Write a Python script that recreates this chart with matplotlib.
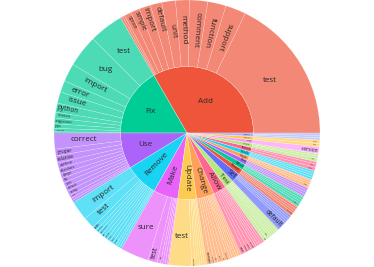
import numpy as np
import matplotlib
matplotlib.use("Agg")
import matplotlib.pyplot as plt
import matplotlib.colors as mcolors
from matplotlib.patches import Wedge
from matplotlib.textpath import TextPath
from matplotlib.font_manager import FontProperties

# --- data: commit verbs (inner ring) and the word that follows (outer ring) ---
verbs = ["Add", "Fix", "Use", "Remove", "Make", "Update", "Change", "Allow",
         "Test", "Set", "Revert", "Move", "Dont", "Create", "Handle", "Improve",
         "Ensure", "Bump", "Refactor", "Replace"]
verb_colors = ["#EF553B", "#00CC96", "#AB63FA", "#19D3F3", "#E763FA", "#FECB52",
               "#FFA15A", "#FF6692", "#B6E880", "#636EFA", "#EF553B", "#00CC96",
               "#AB63FA", "#FFA15A", "#19D3F3", "#FF6692", "#B6E880", "#FF97FF",
               "#FECB52", "#AEB4FB"]

add_words = ["test", "support", "function", "comment", "method", "unit", "default",
             "import", "simple", "option", "new", "more"]
add_counts = [128, 18, 16, 16, 12, 12, 10, 10, 8, 6, 2, 2]
fix_words = ["test", "bug", "import", "error", "issue", "python", "broken",
             "migration", "typo", "problem", "bugs"]
fix_counts = [30, 28, 16, 10, 10, 8, 5, 5, 4, 3, 1]
use_words = ["correct", "proper", "relative", "python", "absolute", "django", "file",
             "json", "default", "string", "new", "os", "same"]
use_counts = [14, 6, 6, 5, 5, 4, 4, 4, 4, 4, 3, 2, 2]
remove_words = ["import", "test", "code", "unused", "deprecated", "old", "debug",
                "dead", "print", "extra", "duplicate", "unnecessary", "support"]
remove_counts = [17, 10, 4, 3, 3, 3, 3, 3, 3, 3, 2, 2, 2]
make_words = ["sure", "test", "it", "code", "build", "tests", "setup"]
make_counts = [25, 8, 3, 2, 2, 2, 1]
update_words = ["test", "version", "docs", "readme", "requirements", "changelog", "copyright"]
update_counts = [20, 3, 2, 2, 2, 2, 2]
change_words = ["example", "default", "test", "name", "log", "version", "error",
                "order", "path", "type", "url", "way"]
change_counts = [4, 3, 3, 3, 3, 3, 2, 2, 2, 2, 2, 2]
allow_words = ["user", "custom", "empty", "passing", "multiple", "setting", "none", "use", "any"]
allow_counts = [4, 3, 3, 3, 2, 2, 2, 2, 2]
test_words = ["for", "that", "case", "new", "data", "all", "fix"]
test_counts = [3, 3, 2, 2, 2, 2, 2]
set_words = ["default", "version", "up", "name", "correct"]
set_counts = [8, 2, 2, 2, 2]
revert_words = ["change", "commit", "merge", "fix", "test"]
revert_counts = [3, 2, 2, 2, 1]
move_words = ["test", "code", "files", "import", "docs"]
move_counts = [3, 2, 2, 2, 1]
dont_words = ["use", "fail", "run", "crash"]
dont_counts = [2, 2, 2, 2]
create_words = ["new", "test", "file", "user"]
create_counts = [3, 2, 2, 1]
handle_words = ["error", "case", "empty", "missing"]
handle_counts = [2, 2, 2, 2]
improve_words = ["error", "test", "docs"]
improve_counts = [3, 3, 2]
ensure_words = ["test", "that", "correct"]
ensure_counts = [3, 2, 2]
bump_words = ["version"]
bump_counts = [6]
refactor_words = ["test", "code"]
refactor_counts = [3, 3]
replace_words = ["old", "test", "deprecated"]
replace_counts = [2, 2, 2]

children = [
    (add_words, add_counts), (fix_words, fix_counts), (use_words, use_counts),
    (remove_words, remove_counts), (make_words, make_counts),
    (update_words, update_counts), (change_words, change_counts),
    (allow_words, allow_counts), (test_words, test_counts), (set_words, set_counts),
    (revert_words, revert_counts), (move_words, move_counts),
    (dont_words, dont_counts), (create_words, create_counts),
    (handle_words, handle_counts), (improve_words, improve_counts),
    (ensure_words, ensure_counts), (bump_words, bump_counts),
    (refactor_words, refactor_counts), (replace_words, replace_counts),
]

# --- geometry (pixels) ---
W, H, DPI = 374, 267, 100
CX, CY = 187, 134
R_OUT = 133.0
R_MID = 66.5
MAX_PX = 8.0
FONT = FontProperties(family="Open Sans")
TEXT_COLOR = "#262626"


def lighten(color, alpha=0.7):
    c = np.array(mcolors.to_rgb(color))
    return tuple(alpha * c + (1 - alpha))


def text_width(label):
    return TextPath((0, 0), label, size=1, prop=FONT).get_extents().width + 0.1


def fits(px, py, w, h, rho, r0, r1, a0, a1, pad=0.6):
    t = np.radians(rho)
    u = np.array([np.cos(t), np.sin(t)])
    v = np.array([-np.sin(t), np.cos(t)])
    s = np.linspace(-1, 1, 7)
    pts = [(i * w / 2) * u + (j * h / 2) * v
           for i in s for j in (-1, 1)] + \
          [(i * w / 2) * u + (j * h / 2) * v for i in (-1, 1) for j in s]
    pts = np.array(pts) + np.array([px, py])
    r = np.hypot(pts[:, 0], pts[:, 1])
    if np.any(r > r1 - pad) or (r0 > 0 and np.any(r < r0 + pad)):
        return False
    th = np.degrees(np.arctan2(pts[:, 1], pts[:, 0])) % 360
    span = a1 - a0
    for d in ((th - a0) % 360, (a1 - th) % 360):
        if np.any(d > span + 1e-9):
            return False
        dr = np.radians(d)
        dist = np.where(dr < np.pi / 2, r * np.sin(dr), r)
        if np.any(dist < pad):
            return False
    return True


def radial_rot(theta):
    if theta <= 270:
        return theta - 180
    return theta - 360


def tangential_rot(theta):
    rho = (theta - 90) % 180
    return rho - 180 if rho > 90 else rho


def place_label(label, r0, r1, a0, a1):
    w1 = text_width(label)
    h1 = 1.0
    mid = (a0 + a1) / 2
    alpha = np.radians(a1 - a0) / 2
    rc = 2 / 3 * (r1 ** 3 - r0 ** 3) / (r1 ** 2 - r0 ** 2) * np.sin(alpha) / alpha
    lo = max(r0, 0.15 * r1)
    radii = np.linspace(lo, r1, 30)
    radii = sorted(list(radii) + [rc], key=lambda r: abs(r - rc))
    best = (0, None, None)
    for rho in (0, radial_rot(mid), tangential_rot(mid)):
        for rp in radii:
            px = rp * np.cos(np.radians(mid))
            py = rp * np.sin(np.radians(mid))
            lo_s, hi_s = 0.0, MAX_PX
            if not fits(px, py, w1 * 0.3, h1 * 0.3, rho, r0, r1, a0, a1):
                continue
            for _ in range(14):
                m = (lo_s + hi_s) / 2
                if fits(px, py, w1 * m, h1 * m, rho, r0, r1, a0, a1):
                    lo_s = m
                else:
                    hi_s = m
            if lo_s > best[0] + 0.05:
                best = (lo_s, (px, py), rho)
    return best


def draw_label(ax, label, r0, r1, a0, a1):
    s, pos, rho = place_label(label, r0, r1, a0, a1)
    if pos is None or s < 1.2:
        return
    ax.text(CX + pos[0], CY + pos[1], label, rotation=rho, rotation_mode="anchor",
            ha="center", va="center", fontsize=s * 72 / DPI,
            family="Open Sans", color=TEXT_COLOR)


fig = plt.figure(figsize=(W / DPI, H / DPI), dpi=DPI)
ax = fig.add_axes([0, 0, 1, 1])
ax.set_xlim(0, W)
ax.set_ylim(0, H)
ax.set_aspect("equal")
ax.axis("off")

total = sum(sum(c) for _, c in children)
start = 0.0
for verb, color, (words, counts) in zip(verbs, verb_colors, children):
    span = sum(counts) / total * 360
    ax.add_patch(Wedge((CX, CY), R_MID, start, start + span,
                       facecolor=color, edgecolor=(1, 1, 1, 0.6), linewidth=0.3))
    draw_label(ax, verb, 0.0, R_MID, start, start + span)
    a = start
    for word, cnt in zip(words, counts):
        sp = cnt / total * 360
        ax.add_patch(Wedge((CX, CY), R_OUT, a, a + sp, width=R_OUT - R_MID,
                           facecolor=lighten(color), edgecolor=(1, 1, 1, 0.45),
                           linewidth=0.25))
        draw_label(ax, word, R_MID, R_OUT, a, a + sp)
        a += sp
    start += span

fig.savefig("out.png", dpi=DPI, facecolor="white")
